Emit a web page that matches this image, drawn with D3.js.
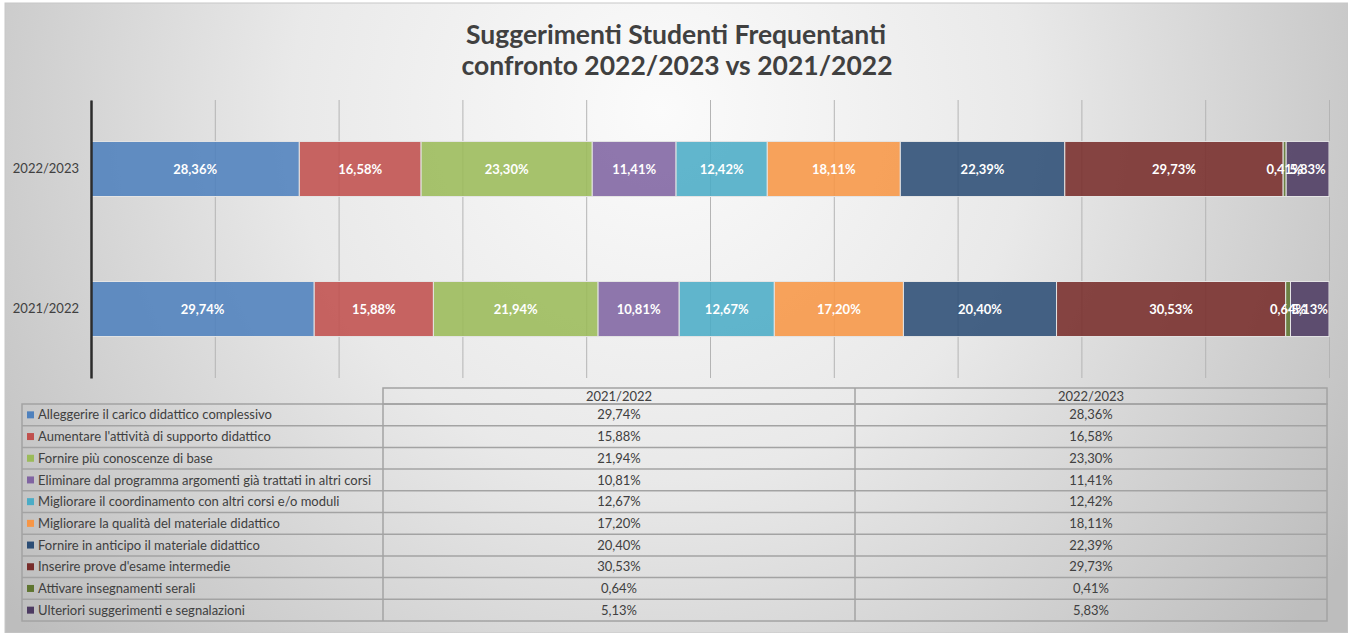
<!DOCTYPE html>
<html>
<head>
<meta charset="utf-8">
<script src="https://cdn.jsdelivr.net/npm/d3@7"></script>
<style>
  body { margin: 0; background: #fff; }
  svg { display: block; font-family: Lato, "Open Sans", sans-serif; }
</style>
</head>
<body>
<div id="chart"></div>
<script>
// data
const years = ["2022/2023", "2021/2022"];          // bar order top -> bottom
const tableYears = ["2021/2022", "2022/2023"];     // column order in the table
const series = [
  "Alleggerire il carico didattico complessivo",
  "Aumentare l'attività di supporto didattico",
  "Fornire più conoscenze di base",
  "Eliminare dal programma argomenti già trattati in altri corsi",
  "Migliorare il coordinamento con altri corsi e/o moduli",
  "Migliorare la qualità del materiale didattico",
  "Fornire in anticipo il materiale didattico",
  "Inserire prove d'esame intermedie",
  "Attivare insegnamenti serali",
  "Ulteriori suggerimenti e segnalazioni"
];
const values2122 = [29.74, 15.88, 21.94, 10.81, 12.67, 17.20, 20.40, 30.53, 0.64, 5.13];
const values2223 = [28.36, 16.58, 23.30, 11.41, 12.42, 18.11, 22.39, 29.73, 0.41, 5.83];
const colors = ["#4F81BD", "#C0504D", "#9BBB59", "#8064A2", "#4BACC6",
                "#F79646", "#2C4D75", "#772C2A", "#5F7530", "#4D3B62"];

const W = 1348, H = 633;
const fmt = v => v.toFixed(2).replace(".", ",") + "%";

const svg = d3.select("#chart").append("svg")
  .attr("width", W)
  .attr("height", H);

// background
const defs = svg.append("defs");
const grad = defs.append("radialGradient")
  .attr("id", "bg")
  .attr("gradientUnits", "userSpaceOnUse")
  .attr("cx", 660).attr("cy", 110).attr("r", 820);
grad.append("stop").attr("offset", 0).attr("stop-color", "#fbfbfb");
grad.append("stop").attr("offset", 0.45).attr("stop-color", "#e9e9e9");
grad.append("stop").attr("offset", 1).attr("stop-color", "#bdbdbd");

svg.append("rect")
  .attr("x", 5).attr("y", 3)
  .attr("width", W - 5).attr("height", H - 3)
  .attr("fill", "url(#bg)")
  .attr("stroke", "#c8c8c8");

// title
svg.append("text")
  .attr("x", 676).attr("y", 44)
  .attr("text-anchor", "middle")
  .attr("font-size", 26.5).attr("font-weight", "bold")
  .attr("fill", "#404040")
  .text("Suggerimenti Studenti Frequentanti");
svg.append("text")
  .attr("x", 677).attr("y", 75)
  .attr("text-anchor", "middle")
  .attr("font-size", 26.5).attr("font-weight", "bold")
  .attr("fill", "#404040")
  .text("confronto 2022/2023 vs 2021/2022");

// scales
const plot = { left: 91, right: 1329, top: 100, bottom: 378 };

const x = d3.scaleLinear()
  .domain([0, 1])
  .range([plot.left, plot.right]);

const y = d3.scaleBand()
  .domain(years)
  .range([plot.top, plot.bottom])
  .paddingInner(0.607)
  .paddingOuter(0.296);

const rows = years.map(yr => {
  const vals = yr === "2022/2023" ? values2223 : values2122;
  const r = { year: yr };
  series.forEach((s, i) => r[s] = vals[i]);
  return r;
});

const stacked = d3.stack()
  .keys(series)
  .offset(d3.stackOffsetExpand)(rows);

// grid lines
svg.append("g")
  .attr("transform", `translate(0,${plot.bottom})`)
  .call(d3.axisBottom(x).ticks(10).tickSize(-(plot.bottom - plot.top)).tickFormat(""))
  .call(g => g.select(".domain").remove())
  .call(g => g.selectAll(".tick line").attr("stroke", "#b4b4b4"));

// bars
const layer = svg.append("g").selectAll("g")
  .data(stacked)
  .join("g")
  .attr("fill", (d, i) => colors[i])
  .attr("fill-opacity", 0.88);

layer.selectAll("rect")
  .data(d => d)
  .join("rect")
  .attr("x", d => x(d[0]))
  .attr("y", d => y(d.data.year))
  .attr("width", d => x(d[1]) - x(d[0]))
  .attr("height", y.bandwidth())
  .attr("stroke", "#e4e4e4")
  .attr("stroke-width", 1);

// bar labels (the two small ones overlap in the original too)
const labels = svg.append("g");
stacked.forEach(s => {
  s.forEach(d => {
    labels.append("text")
      .attr("x", (x(d[0]) + x(d[1])) / 2)
      .attr("y", y(d.data.year) + y.bandwidth() / 2)
      .attr("dy", "0.35em")
      .attr("text-anchor", "middle")
      .attr("font-size", 13)
      .attr("font-weight", "bold")
      .attr("fill", "#fff")
      .text(fmt(d.data[s.key]));
  });
});

// y axis
svg.append("g")
  .attr("transform", `translate(${plot.left},0)`)
  .call(d3.axisLeft(y).tickSize(0).tickPadding(12))
  .call(g => g.select(".domain").attr("stroke", "#2b2b2b").attr("stroke-width", 2.5))
  .call(g => g.selectAll(".tick text")
    .attr("font-size", 13)
    .attr("font-family", "Lato, sans-serif")
    .attr("fill", "#404040"));

// data table
const tbl = { left: 22, col1: 383, col2: 855, right: 1327, headTop: 388, top: 404, bottom: 621 };
const ty = d3.scaleBand().domain(series).range([tbl.top, tbl.bottom]);
const colX = { "2021/2022": [tbl.col1, tbl.col2], "2022/2023": [tbl.col2, tbl.right] };
const tableVals = { "2021/2022": values2122, "2022/2023": values2223 };
const lineCol = "#a3a3a3";
const t = svg.append("g");

// header cells
t.append("rect")
  .attr("x", tbl.col1).attr("y", tbl.headTop)
  .attr("width", tbl.right - tbl.col1).attr("height", tbl.top - tbl.headTop)
  .attr("fill", "none").attr("stroke", lineCol).attr("stroke-width", 1.5);
t.append("line")
  .attr("x1", tbl.col2).attr("x2", tbl.col2)
  .attr("y1", tbl.headTop).attr("y2", tbl.bottom)
  .attr("stroke", lineCol).attr("stroke-width", 1.5);
tableYears.forEach(yr => {
  t.append("text")
    .attr("x", (colX[yr][0] + colX[yr][1]) / 2)
    .attr("y", (tbl.headTop + tbl.top) / 2)
    .attr("dy", "0.35em")
    .attr("text-anchor", "middle")
    .attr("font-size", 13).attr("fill", "#404040")
    .text(yr);
});

// body
t.append("rect")
  .attr("x", tbl.left).attr("y", tbl.top)
  .attr("width", tbl.right - tbl.left).attr("height", tbl.bottom - tbl.top)
  .attr("fill", "none").attr("stroke", lineCol).attr("stroke-width", 1.5);
t.append("line")
  .attr("x1", tbl.col1).attr("x2", tbl.col1)
  .attr("y1", tbl.top).attr("y2", tbl.bottom)
  .attr("stroke", lineCol).attr("stroke-width", 1.5);

series.forEach((s, i) => {
  const ry = ty(s);
  if (i > 0) {
    t.append("line")
      .attr("x1", tbl.left).attr("x2", tbl.right)
      .attr("y1", ry).attr("y2", ry)
      .attr("stroke", lineCol).attr("stroke-width", 1.5);
  }
  const cy = ry + ty.bandwidth() / 2;
  t.append("rect")
    .attr("x", 27).attr("y", cy - 3.5)
    .attr("width", 7).attr("height", 7)
    .attr("fill", colors[i]);
  t.append("text")
    .attr("x", 38).attr("y", cy)
    .attr("dy", "0.35em")
    .attr("font-size", 13).attr("fill", "#404040")
    .text(s);
  tableYears.forEach(yr => {
    t.append("text")
      .attr("x", (colX[yr][0] + colX[yr][1]) / 2)
      .attr("y", cy)
      .attr("dy", "0.35em")
      .attr("text-anchor", "middle")
      .attr("font-size", 13).attr("fill", "#404040")
      .text(fmt(tableVals[yr][i]));
  });
});
</script>
</body>
</html>
